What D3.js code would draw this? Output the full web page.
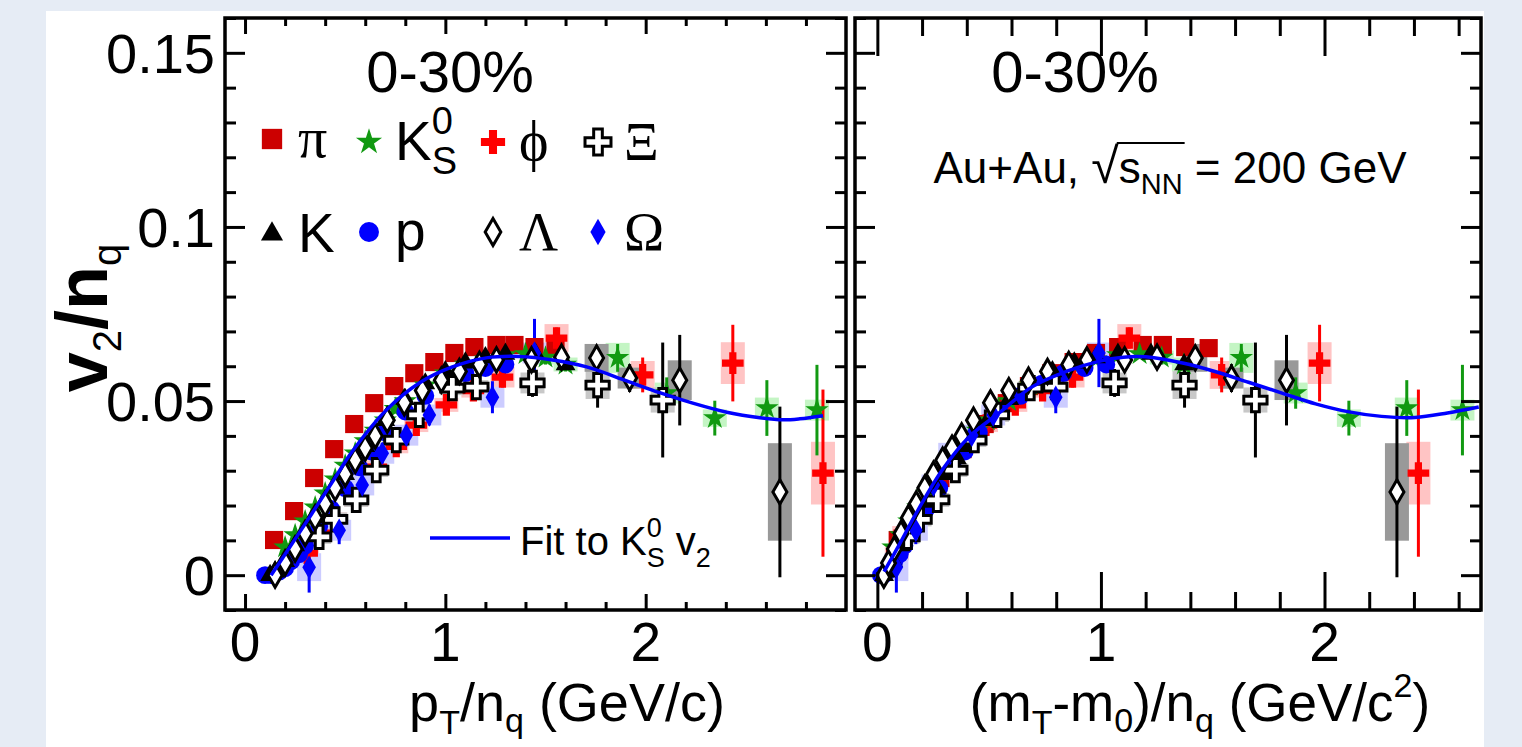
<!DOCTYPE html>
<html>
<head>
<meta charset="utf-8">
<script src="https://cdnjs.cloudflare.com/ajax/libs/d3/7.8.5/d3.min.js"></script>
<style>
  body { margin: 0; background: #e6ecf5; }
  svg { display: block; }
  text { white-space: pre; }
</style>
</head>
<body>
<svg id="chart" width="1522" height="747"></svg>
<script>
// ---- data: v2/nq vs pT/nq (left) and (mT-m0)/nq (right) ----
const piPt  = [0.145,0.245,0.345,0.445,0.545,0.645,0.745,0.845,0.945,1.045,1.145,1.255,1.345,1.445,1.55];
const piKet = [0.091,0.185,0.282,0.381,0.48,0.579,0.678,0.778,0.878,0.978,1.077,1.187,1.277,1.377,1.482];
const piV2  = [0.0101,0.0184,0.0279,0.0362,0.0434,0.0494,0.0543,0.058,0.0612,0.0638,0.0655,0.0661,0.0661,0.0655,0.0652];

const ksPt  = [0.2,0.25,0.3,0.35,0.4,0.45,0.5,0.55,0.6,0.65,0.7,0.75,0.8,0.9,1.0,1.1,1.2,1.3,1.4,1.5,1.6,1.86,2.105,2.345,2.605,2.855];
const ksKet = [0.070,0.104,0.141,0.181,0.222,0.265,0.310,0.355,0.401,0.447,0.494,0.541,0.589,0.685,0.782,0.879,0.977,1.075,1.173,1.272,1.371,1.628,1.871,2.109,2.368,2.617];
const ksV2  = [0.008,0.0115,0.0155,0.0195,0.0235,0.0275,0.0315,0.035,0.0385,0.0415,0.0445,0.0478,0.050,0.0545,0.058,0.0605,0.062,0.0632,0.0635,0.0625,0.0605,0.0624,0.0523,0.0451,0.048,0.0474];
const ksErr = [0.001,0.001,0.001,0.001,0.001,0.001,0.001,0.001,0.001,0.001,0.001,0.001,0.001,0.001,0.001,0.001,0.001,0.001,0.001,0.002,0.002,0.004,0.0045,0.005,0.008,0.013];
const ksSys = [0,0,0,0,0,0,0,0,0,0,0,0,0,0,0,0,0,0,0,0.002,0.002,0.0043,0.003,0.0025,0.003,0.003];

const phiPt  = [0.31,0.37,0.45,0.555,0.655,0.755,0.855,1.005,1.14,1.285,1.555,1.985,2.435,2.885];
const phiKet = [0.087,0.120,0.170,0.244,0.320,0.401,0.486,0.617,0.739,0.873,1.127,1.540,1.978,2.420];
const phiV2  = [0.0063,0.0121,0.016,0.0216,0.031,0.037,0.0431,0.0489,0.053,0.0569,0.0681,0.0575,0.0609,0.0293];
const phiErr = [0.002,0.002,0.002,0.002,0.002,0.002,0.002,0.002,0.002,0.003,0.003,0.005,0.011,0.024];
const phiSys = [0.002,0.002,0.002,0.002,0.002,0.002,0.002,0.002,0.002,0.003,0.004,0.004,0.006,0.009];

const xiPt  = [0.37,0.45,0.555,0.655,0.755,0.87,1.035,1.155,1.435,1.76,2.085];
const xiKet = [0.135,0.189,0.268,0.349,0.434,0.535,0.684,0.796,1.061,1.374,1.691];
const xiV2  = [0.011,0.016,0.0216,0.0302,0.0388,0.046,0.0537,0.054,0.0552,0.0546,0.0503];
const xiErr = [0.002,0.002,0.002,0.002,0.002,0.002,0.002,0.003,0.004,0.0065,0.0165];
const xiSys = [0.002,0.002,0.002,0.002,0.002,0.002,0.002,0.002,0.003,0.004,0.0036];

const kPt  = [0.125,0.15,0.2,0.25,0.3,0.35,0.4,0.45,0.5,0.55,0.6,0.7,0.8,0.9,1.0,1.1,1.2,1.3,1.45,1.6];
const kKet = [0.030,0.042,0.071,0.105,0.142,0.181,0.223,0.266,0.311,0.356,0.402,0.495,0.590,0.686,0.783,0.881,0.978,1.076,1.224,1.372];
const kV2  = [0.0,0.001,0.004,0.0085,0.0125,0.0165,0.021,0.025,0.029,0.0335,0.037,0.0445,0.0505,0.055,0.0585,0.061,0.0625,0.0635,0.0635,0.0605];

const pPt  = [0.1,0.13,0.17,0.2,0.23,0.27,0.3,0.37,0.43,0.5,0.57,0.63,0.7,0.8,0.9,1.0,1.1,1.2,1.3];
const pKet = [0.016,0.026,0.043,0.059,0.076,0.100,0.121,0.172,0.219,0.277,0.338,0.391,0.454,0.546,0.640,0.735,0.831,0.927,1.024];
const pV2  = [0.0,0.0,0.001,0.002,0.004,0.006,0.0085,0.014,0.019,0.025,0.031,0.0355,0.041,0.047,0.0515,0.055,0.058,0.0595,0.0605];

const laPt  = [0.15,0.2,0.25,0.3,0.35,0.4,0.45,0.5,0.55,0.6,0.65,0.71,0.795,0.885,0.98,1.07,1.17,1.255,1.43,1.58,1.755,1.92,2.17,2.67];
const laKet = [0.029,0.050,0.076,0.106,0.139,0.174,0.212,0.251,0.292,0.334,0.377,0.430,0.506,0.588,0.676,0.761,0.856,0.937,1.106,1.251,1.422,1.584,1.830,2.324];
const laV2  = [0.0,0.0035,0.0075,0.012,0.0165,0.0205,0.025,0.029,0.033,0.0365,0.040,0.0445,0.0495,0.053,0.056,0.0585,0.0605,0.0618,0.0618,0.0626,0.0624,0.0566,0.056,0.0239];
const laErr = [0,0,0,0,0,0,0,0,0,0,0,0,0,0,0,0,0,0.002,0.002,0.002,0.003,0.004,0.013,0.0245];
const laSys = [0,0,0,0,0,0,0,0,0,0,0,0,0,0,0,0,0,0,0,0,0.004,0.003,0.0057,0.014];

const omPt  = [0.32,0.47,0.585,0.685,0.805,0.92,1.235,1.445];
const omKet = [0.085,0.172,0.251,0.326,0.422,0.518,0.798,0.991];
const omV2  = [0.0023,0.0129,0.0259,0.035,0.0402,0.046,0.0511,0.0638];
const omErr = [0.0073,0.004,0.003,0.003,0.003,0.003,0.0046,0.0098];
const omSys = [0.004,0.003,0.003,0.003,0.003,0.003,0.003,0.003];

// fit to K0s v2
const fitPt  = [0.13,0.2,0.335,0.45,0.535,0.705,0.87,1.035,1.205,1.37,1.535,1.705,1.905,2.07,2.235,2.405,2.57,2.685,2.77,2.885];
const fitV2  = [0.0,0.006,0.0178,0.028,0.0355,0.0474,0.0552,0.0598,0.0624,0.0628,0.0618,0.0598,0.0558,0.0524,0.0494,0.0468,0.0452,0.0446,0.0449,0.0458];
const fitKet = [0.03,0.1,0.174,0.29,0.41,0.545,0.69,0.845,0.99,1.1,1.2,1.36,1.51,1.66,1.81,1.96,2.11,2.255,2.405,2.55,2.69];
const fitV2R = [0.001,0.009,0.0178,0.0302,0.0397,0.0466,0.054,0.0585,0.0614,0.0626,0.0627,0.061,0.0585,0.0554,0.0523,0.0492,0.0469,0.0456,0.0453,0.0466,0.0483];

const yMajor = [0, 0.05, 0.1, 0.15];
const yLabels = ['0', '0.05', '0.1', '0.15'];
const xMajorL = [0, 1, 2];
const xMajorR = [0, 1, 2];

const sans = '"Liberation Sans", Arial, Helvetica, sans-serif';
const serif = '"Liberation Serif", "DejaVu Serif", "Times New Roman", serif';

const svg = d3.select('#chart');
svg.append('rect').attr('width', 1522).attr('height', 747).attr('fill', '#e6ecf5');
svg.append('rect').attr('x', 46).attr('y', 11).attr('width', 1438).attr('height', 736).attr('fill', '#fff');

const y = d3.scaleLinear().domain([-0.01, 0.16]).range([610, 18]);
const xL = d3.scaleLinear().domain([-0.1, 3.0]).range([225, 846]);
const xR = d3.scaleLinear().domain([-0.1, 2.7]).range([855, 1481]);

// species table built from the arrays above
const species = [
  {pt: piPt,  ket: piKet,  v: piV2,  type: d3.symbolSquare,   size: 330, fill: '#cc0000', stroke: 'none'},
  {pt: phiPt, ket: phiKet, v: phiV2, err: phiErr, sys: phiSys, sysFill: '#ffc4c4', errColor: '#ff0000',
     type: d3.symbolCross, size: 260, fill: '#ff0000', stroke: 'none'},
  {pt: ksPt,  ket: ksKet,  v: ksV2,  err: ksErr, sys: ksSys, sysFill: '#c4f5c4', errColor: '#119911',
     type: d3.symbolStar, size: 170, fill: '#119911', stroke: 'none'},
  {pt: pPt,   ket: pKet,   v: pV2,   type: d3.symbolCircle, size: 250, fill: '#0000ff', stroke: 'none'},
  {pt: kPt,   ket: kKet,   v: kV2,   type: d3.symbolTriangle, size: 170, fill: '#000', stroke: 'none'},
  {pt: xiPt,  ket: xiKet,  v: xiV2,  err: xiErr, sys: xiSys, sysFill: '#c8c8c8', errColor: '#000',
     type: d3.symbolCross, size: 300, fill: '#fff', stroke: '#000'},
  {pt: omPt,  ket: omKet,  v: omV2,  err: omErr, sys: omSys, sysFill: '#ccccff', errColor: '#0000ff',
     type: d3.symbolDiamond, size: 160, fill: '#0000ff', stroke: 'none'},
  {pt: laPt,  ket: laKet,  v: laV2,  err: laErr, sys: laSys, sysFill: '#999999', errColor: '#000',
     type: d3.symbolDiamond, size: 170, fill: '#fff', stroke: '#000'}
];

function drawPanel(x, key, fitX, fitY, clipId) {
  svg.append('clipPath').attr('id', clipId)
    .append('rect').attr('x', x.range()[0]).attr('y', 18)
    .attr('width', x.range()[1] - x.range()[0]).attr('height', 592);
  const g = svg.append('g').attr('clip-path', `url(#${clipId})`);

  // systematic boxes
  species.filter(s => s.sys).forEach(s => {
    g.append('g').selectAll('rect')
      .data(s.v.map((v, i) => ({x: s[key][i], v: v, s: s.sys[i]})).filter(d => d.s > 0))
      .join('rect')
      .attr('x', d => x(d.x) - 12)
      .attr('width', 24)
      .attr('y', d => y(d.v + d.s))
      .attr('height', d => y(d.v - d.s) - y(d.v + d.s))
      .attr('fill', s.sysFill);
  });
  // statistical error bars
  species.filter(s => s.err).forEach(s => {
    g.append('g').selectAll('line')
      .data(s.v.map((v, i) => ({x: s[key][i], v: v, e: s.err[i]})).filter(d => d.e > 0))
      .join('line')
      .attr('x1', d => x(d.x)).attr('x2', d => x(d.x))
      .attr('y1', d => y(d.v - d.e)).attr('y2', d => y(d.v + d.e))
      .attr('stroke', s.errColor).attr('stroke-width', 3);
  });
  // markers
  species.forEach(s => {
    const sym = d3.symbol().type(s.type).size(s.size);
    g.append('g').selectAll('path')
      .data(s.v.map((v, i) => ({x: s[key][i], v: v})))
      .join('path')
      .attr('d', sym)
      .attr('transform', d => `translate(${x(d.x)},${y(d.v)})`)
      .attr('fill', s.fill)
      .attr('stroke', s.stroke)
      .attr('stroke-width', 3);
  });
  // fit curve
  const line = d3.line().x(d => x(d[0])).y(d => y(d[1])).curve(d3.curveCatmullRom);
  g.append('path')
    .datum(fitX.map((d, i) => [d, fitY[i]]))
    .attr('d', line)
    .attr('fill', 'none').attr('stroke', '#0000ff').attr('stroke-width', 3.5);
}

drawPanel(xL, 'pt', fitPt, fitV2, 'clipL');
drawPanel(xR, 'ket', fitKet, fitV2R, 'clipR');

// ticks on all four sides of each panel
function frameTicks(x, xMaj, xMajLen, xMinLen) {
  const [x0, x1] = x.range();
  const xMin = d3.range(0, x.domain()[1] + 0.001, 0.2).filter(d => Math.abs(d - Math.round(d)) > 0.01);
  const yMin = d3.range(-0.01, 0.161, 0.01).filter(d => Math.abs(d * 20 - Math.round(d * 20)) > 0.01);
  const ax = (axis, tr) => {
    const a = svg.append('g').attr('transform', tr).call(axis.tickFormat(''));
    a.select('.domain').remove();
    a.selectAll('line').attr('stroke', '#000').attr('stroke-width', 3);
  };
  ax(d3.axisBottom(x).tickValues(xMaj).tickSize(-xMajLen), 'translate(0,610)');
  ax(d3.axisBottom(x).tickValues(xMin).tickSize(-xMinLen), 'translate(0,610)');
  ax(d3.axisTop(x).tickValues(xMaj).tickSize(-xMajLen), 'translate(0,18)');
  ax(d3.axisTop(x).tickValues(xMin).tickSize(-xMinLen), 'translate(0,18)');
  ax(d3.axisLeft(y).tickValues(yMajor).tickSize(-20), `translate(${x0},0)`);
  ax(d3.axisLeft(y).tickValues(yMin).tickSize(-11), `translate(${x0},0)`);
  ax(d3.axisRight(y).tickValues(yMajor).tickSize(-20), `translate(${x1},0)`);
  ax(d3.axisRight(y).tickValues(yMin).tickSize(-11), `translate(${x1},0)`);
  svg.append('rect').attr('x', x0).attr('y', 18).attr('width', x1 - x0).attr('height', 592)
    .attr('fill', 'none').attr('stroke', '#000').attr('stroke-width', 3.5);
}
frameTicks(xL, xMajorL, 16, 8);
frameTicks(xR, xMajorR, 38, 18);

// tick labels
svg.append('g').selectAll('text').data(yMajor).join('text')
  .attr('x', 215).attr('y', d => y(d)).attr('dy', '0.36em')
  .attr('text-anchor', 'end').attr('font-family', sans).attr('font-size', 56)
  .text((d, i) => yLabels[i]);
[[xL, xMajorL], [xR, xMajorR]].forEach(([x, ticks]) => {
  svg.append('g').selectAll('text').data(ticks).join('text')
    .attr('x', d => x(d)).attr('y', 661)
    .attr('text-anchor', 'middle').attr('font-family', sans).attr('font-size', 55)
    .text(d => d);
});

// rich text helper: runs laid out left to right, "stack" runs share the previous start x
function rich(parent, runs) {
  const g = parent.append('g');
  let cx = 0, lastStart = 0;
  const pos = [];
  runs.forEach(r => {
    const start = r.stack ? lastStart : cx;
    const t = g.append('text')
      .attr('x', start).attr('y', r.dy || 0)
      .attr('xml:space', 'preserve')
      .attr('font-family', r.ff || sans)
      .attr('font-size', r.fs)
      .attr('font-weight', r.fw || 'normal')
      .text(r.t);
    const w = t.node().getComputedTextLength();
    if (r.stack) cx = Math.max(cx, start + w);
    else { lastStart = start; cx = start + w; }
    pos.push([start, start + w]);
  });
  return {g: g, width: cx, pos: pos};
}
function place(runs, x, y, anchor, extra) {
  const outer = svg.append('g').attr('transform', `translate(${x},${y})` + (extra || ''));
  const r = rich(outer, runs);
  const shift = anchor === 'middle' ? -r.width / 2 : 0;
  r.g.attr('transform', `translate(${shift},0)`);
  return r;
}

// axis titles
place([{t: 'v', fs: 72, fw: 'bold'}, {t: '2', fs: 40, dy: 14}, {t: '/n', fs: 72, fw: 'bold'}, {t: 'q', fs: 40, dy: 14}],
  107, 318, 'middle', ' rotate(-90)');
place([{t: 'p', fs: 54}, {t: 'T', fs: 34, dy: 13}, {t: '/n', fs: 54}, {t: 'q', fs: 34, dy: 11}, {t: ' (GeV/c)', fs: 54}],
  567, 721, 'middle');
place([{t: '(m', fs: 53}, {t: 'T', fs: 34, dy: 13}, {t: '-m', fs: 53}, {t: '0', fs: 34, dy: 11},
       {t: ')/n', fs: 53}, {t: 'q', fs: 34, dy: 11}, {t: ' (GeV/c', fs: 53}, {t: '2', fs: 34, dy: -24}, {t: ')', fs: 53}],
  1200, 721, 'middle');

// centrality labels
place([{t: '0-30%', fs: 58}], 450, 92, 'middle');
place([{t: '0-30%', fs: 58}], 1075, 92, 'middle');

// collision system label with a root sign bar
const sysLab = place([{t: 'Au+Au, ', fs: 44}, {t: '\u221A', fs: 50}, {t: 's', fs: 44}, {t: 'NN', fs: 29, dy: 11},
                   {t: ' = 200 GeV', fs: 44}], 1170, 183, 'middle');
sysLab.g.append('line')
  .attr('x1', sysLab.pos[1][1] - 2).attr('x2', sysLab.pos[3][1] + 2)
  .attr('y1', -40).attr('y2', -40)
  .attr('stroke', '#000').attr('stroke-width', 2.2);

// legend
const legendItems = [
  {s: species[0], x: 272, y: 139, label: [{t: '\u03C0', fs: 58, ff: serif}]},
  {s: species[2], x: 369, y: 142, label: [{t: 'K', fs: 55}, {t: 'S', fs: 38, dy: 14}, {t: '0', fs: 38, dy: -26, stack: true}]},
  {s: species[1], x: 493, y: 142, label: [{t: '\u03D5', fs: 56, ff: serif}]},
  {s: species[5], x: 598, y: 142, label: [{t: '\u039E', fs: 54, ff: serif}]},
  {s: species[4], x: 272, y: 234, label: [{t: 'K', fs: 55}]},
  {s: species[3], x: 369, y: 232, label: [{t: 'p', fs: 55}]},
  {s: species[7], x: 493, y: 232, label: [{t: '\u039B', fs: 54, ff: serif}]},
  {s: species[6], x: 598, y: 232, label: [{t: '\u03A9', fs: 54, ff: serif}]}
];
legendItems.forEach(d => {
  svg.append('path')
    .attr('d', d3.symbol().type(d.s.type).size(d.s.size * 1.25))
    .attr('transform', `translate(${d.x},${d.y})`)
    .attr('fill', d.s.fill).attr('stroke', d.s.stroke).attr('stroke-width', 3);
  place(d.label, d.x + 26, d.y + 18, 'start');
});

// fit legend
svg.append('line').attr('x1', 430).attr('x2', 510).attr('y1', 538).attr('y2', 538)
  .attr('stroke', '#0000ff').attr('stroke-width', 3.5);
place([{t: 'Fit to K', fs: 40}, {t: 'S', fs: 27, dy: 12}, {t: '0', fs: 27, dy: -18, stack: true},
       {t: ' v', fs: 40}, {t: '2', fs: 27, dy: 12}], 520, 555, 'start');
</script>
</body>
</html>
